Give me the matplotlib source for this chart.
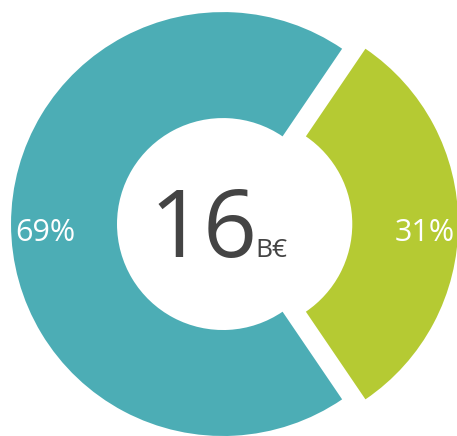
import matplotlib.pyplot as plt

# data
labels = ['Part B', 'Part A']
shares = [31, 69]
colors = ['#b5ca33', '#4cadb5']
explode = [0.11, 0]
total_value = '16'
total_unit = 'B€'

plt.rcParams['font.family'] = ['Open Sans', 'DejaVu Sans']

fig = plt.figure(figsize=(4.57, 4.36), dpi=100)
ax = fig.add_axes([0, 0, 1, 1])

start = -shares[0] * 3.6 / 2
wedges, texts, autotexts = ax.pie(
    shares, colors=colors, explode=explode, startangle=start,
    counterclock=True, autopct='%.0f%%', pctdistance=0.84,
    wedgeprops=dict(width=0.5, linewidth=0),
    textprops=dict(color='white', fontsize=22))

# nudge percentage labels down a little
for t in autotexts:
    x, y = t.get_position()
    t.set_position((x, y - 0.04))

ax.text(0.162, -0.156, total_value, ha='right', va='baseline',
        fontsize=68, color='#444444')
ax.text(0.152, -0.156, total_unit, ha='left', va='baseline',
        fontsize=19, color='#444444')

ax.set_xlim(-1.052, 1.104)
ax.set_ylim(-1.0, 1.057)
ax.set_aspect('equal')
ax.axis('off')

plt.savefig('out.png', dpi=100)
plt.close()
